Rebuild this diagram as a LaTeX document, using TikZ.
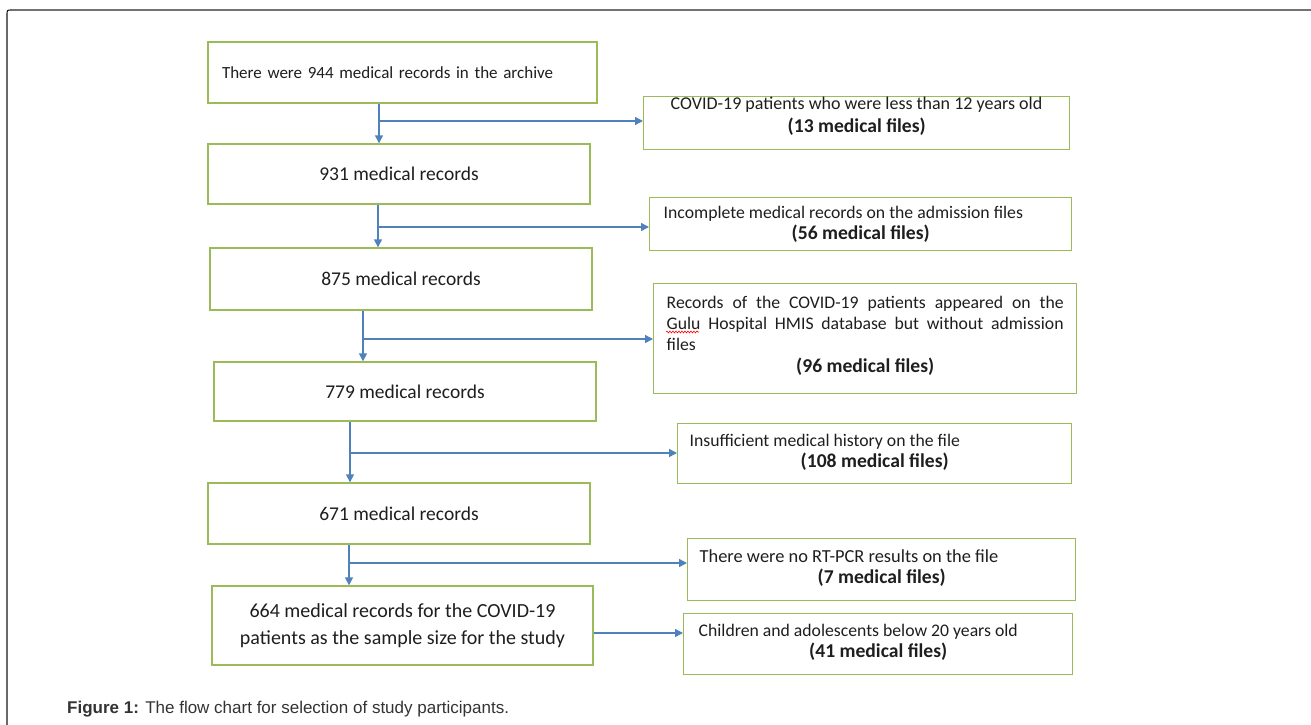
\documentclass[tikz,border=0pt]{standalone}
\usepackage{fontspec}
\setmainfont{Carlito}
\newfontfamily\capfont{Liberation Sans}
\usetikzlibrary{arrows.meta,decorations.pathmorphing}
\definecolor{boxgreen}{HTML}{9BBB59}
\definecolor{arrblue}{HTML}{4F81BD}
\definecolor{txt}{HTML}{1E1E1E}
\newcommand\rbody[4]{\parbox[t][#1][t]{#2}{\vspace*{#3}\strut #4}}
\newcommand\cnt[1]{{\centering\fontsize{19.6}{21}\selectfont\bfseries #1\par}}
\tikzset{
  lbox/.style={draw=boxgreen, line width=1.4pt, inner sep=0pt, text=txt, font=\fontsize{19.5}{22}\selectfont},
  rbox/.style={draw=boxgreen, line width=1.4pt, inner ysep=0pt, anchor=north west, text=txt, font=\fontsize{17.7}{21}\selectfont},
  arr/.style={draw=arrblue, line width=1.4pt, -{Triangle[length=8pt,width=8pt]}},
}
\begin{document}
\begin{tikzpicture}[x=1pt,y=-1pt]
\useasboundingbox (0,0) rectangle (1311,725);
% frame
\draw[black!90, line width=1.1pt] (7,725) -- (7,15) .. controls (7,10) .. (12,10);
\draw[black!55, line width=1.8pt] (12,10) -- (1311,10);
% left boxes
\node[lbox, minimum width=389pt, minimum height=61pt, text width=361pt, align=left, font=\fontsize{17}{22}\selectfont] (b1) at (402.5,72.5) {There were 944 medical records in the archive};
\node[lbox, minimum width=382pt, minimum height=60pt] (b2) at (399,174) {931 medical records};
\node[lbox, minimum width=382pt, minimum height=62pt] (b3) at (401,279) {875 medical records};
\node[lbox, minimum width=382pt, minimum height=59pt] (b4) at (405,391.5) {779 medical records};
\node[lbox, minimum width=382pt, minimum height=61pt] (b5) at (399,513.5) {671 medical records};
\node[lbox, minimum width=381pt, minimum height=79pt, align=center, font=\fontsize{20}{27}\selectfont] (b6) at (402.5,625.5) {664 medical records for the COVID-19\\patients as the sample size for the study};
% right boxes
\node[rbox, inner xsep=27pt, font=\fontsize{18}{21}\selectfont] (r1) at (643,96) {\rbody{53pt}{372pt}{-2.2pt}{COVID-19 patients who were less than 12 years old\par\vspace{2pt}\cnt{(13 medical files)}}};
\node[rbox, inner xsep=14pt] (r2) at (649,197) {\rbody{53pt}{394pt}{5.8pt}{Incomplete medical records on the admission files\par\cnt{(56 medical files)}}};
\node[rbox, inner xsep=13pt] (r3) at (653,283) {\rbody{110pt}{397pt}{9.8pt}{\makebox[\linewidth][s]{Records of the COVID-19 patients appeared on the}\par\makebox[\linewidth][s]{Gulu Hospital HMIS database but without admission}\par files\par\vspace{1pt}\cnt{(96 medical files)}}};
\node[rbox, inner xsep=12pt] (r4) at (677,423) {\rbody{60pt}{370pt}{7.8pt}{Insufficient medical history on the file\par\cnt{(108 medical files)}}};
\node[rbox, inner xsep=12pt, font=\fontsize{18.4}{21}\selectfont] (r5) at (687,538) {\rbody{62pt}{364pt}{8.8pt}{There were no RT-PCR results on the file\par\cnt{(7 medical files)}}};
\node[rbox, inner xsep=15pt] (r6) at (683,613) {\rbody{61pt}{359pt}{7.8pt}{Children and adolescents below 20 years old\par\cnt{(41 medical files)}}};
% spell-check squiggle under "Gulu"
\draw[red, line width=0.6pt, decorate, decoration={snake, amplitude=0.9pt, segment length=3pt}] ([xshift=13pt,yshift=-49pt]r3.north west) -- ++(33,0);
% connectors
\coordinate (j1) at (379,121);
\coordinate (j2) at (378,227);
\coordinate (j3) at (363,339);
\coordinate (j4) at (350,453);
\coordinate (j5) at (349,563);
\coordinate (j6) at (593,633);
\draw[arr] (b1.south -| j1) -- (b2.north -| j1);
\draw[arr] (j1) -- (j1 -| r1.west);
\draw[arr] (b2.south -| j2) -- (b3.north -| j2);
\draw[arr] (j2) -- (j2 -| r2.west);
\draw[arr] (b3.south -| j3) -- (b4.north -| j3);
\draw[arr] (j3) -- (j3 -| r3.west);
\draw[arr] (b4.south -| j4) -- (b5.north -| j4);
\draw[arr] (j4) -- (j4 -| r4.west);
\draw[arr] (b5.south -| j5) -- (b6.north -| j5);
\draw[arr] (j5) -- (j5 -| r5.west);
\draw[arr] (j6 -| b6.east) -- (j6 -| r6.west);
% caption
\node[anchor=base west, inner sep=0pt, font=\capfont\fontsize{17}{20}\selectfont, text=black!80] (cap) at (67,713) {\textbf{Figure 1:} The flow chart for selection of study participants.};
\end{tikzpicture}
\end{document}
